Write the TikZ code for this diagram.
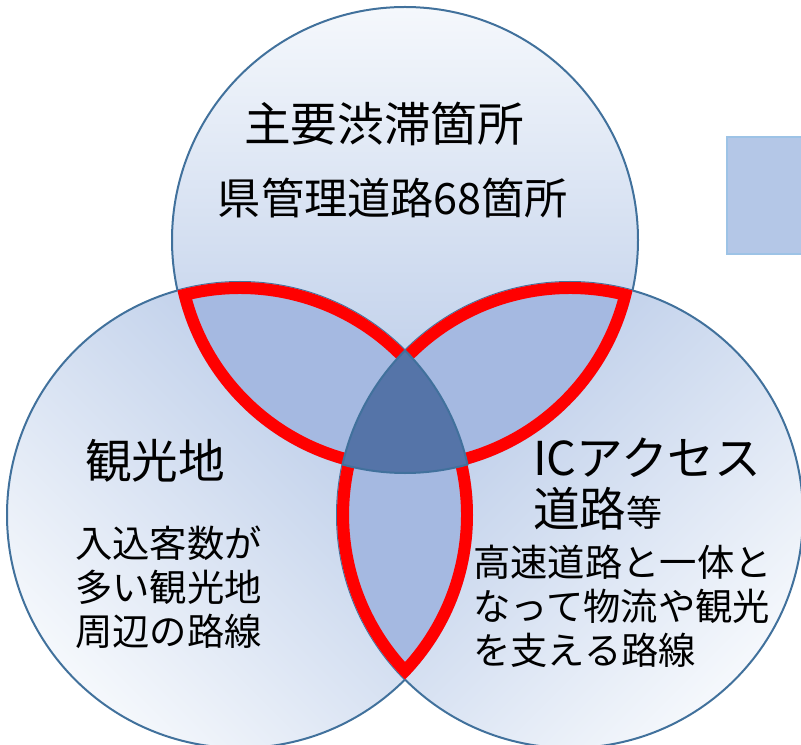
\documentclass[tikz,border=0pt]{standalone}
\usepackage{fontspec}
\setmainfont{Noto Sans CJK JP}
\usepackage{tikz}
\definecolor{ringline}{HTML}{41719C}
\definecolor{shadelight}{HTML}{F5F8FC}
\definecolor{shadedark}{HTML}{B3C6E6}
\definecolor{lensfill}{HTML}{A5B9E1}
\definecolor{corefill}{HTML}{5574A8}
\definecolor{boxfill}{HTML}{B4C7E7}
\definecolor{boxline}{HTML}{9DC3E6}
% outline of the three pairwise overlaps
\newcommand\rimpath{(177.54,453.48)
  arc[start angle=105.55, end angle=44.91, radius=233]
  arc[start angle=135.09, end angle=74.45, radius=233]
  arc[start angle=-12.52, end angle=-74.45, radius=233]
  arc[start angle=12.52, end angle=-44.91, radius=233]
  arc[start angle=224.91, end angle=167.48, radius=233]
  arc[start angle=254.45, end angle=192.52, radius=233] -- cycle}
% common part of all three circles
\newcommand\corepath{(405,393.51)
  arc[start angle=135.09, end angle=167.48, radius=233]
  arc[start angle=254.45, end angle=285.55, radius=233]
  arc[start angle=12.52, end angle=44.91, radius=233] -- cycle}

\begin{document}
\begin{tikzpicture}[
  x=0.75pt, y=0.75pt,
  ring/.style={draw=ringline, line width=1.5pt},
  lens/.style={fill=lensfill},
  core/.style={fill=corefill, draw=ringline, line width=1.5pt},
  rim/.style={draw=red, line width=18pt, line join=miter},
  head/.style={font=\fontsize{35}{40}\selectfont, inner sep=0pt},
  note/.style={font=\fontsize{28}{33}\selectfont, inner sep=0pt, align=left, anchor=west}
]
\useasboundingbox (0,0) rectangle (801,744);
\clip (0,0) rectangle (801,744);
\coordinate (T) at (405,504);
\coordinate (L) at (240,229);
\coordinate (R) at (570,229);
% circles
\shadedraw[ring, top color=shadelight, bottom color=shadedark] (T) circle (233);
\shadedraw[ring, top color=shadedark, bottom color=shadelight, shading angle=-45] (L) circle (233);
\shadedraw[ring, top color=shadedark, bottom color=shadelight, shading angle=45] (R) circle (233);
% overlaps
\foreach \p/\q in {T/L, T/R, L/R}{
  \begin{scope}
    \clip (\p) circle (233);
    \fill[lens] (\q) circle (233);
  \end{scope}
}
\foreach \p/\q in {T/L, T/R, L/R}{
  \begin{scope}
    \clip (\p) circle (233);
    \clip (\q) circle (233);
    \path[rim] \rimpath;
  \end{scope}
}
\path[core] \corepath;
% box at the right
\draw[fill=boxfill, draw=boxline, line width=1.5pt] (727,490) rectangle (810,607);
% texts
\node[head] (title) at (384,620) {主要渋滞箇所};
\node[head, font=\fontsize{32.4}{36}\selectfont] (count) at (393,546) {県管理道路68箇所};
\node[head] (spot) at (155,283) {観光地};
\node[note] (spotnote) at (75,157) {入込客数が\\多い観光地\\周辺の路線};
\node[head, anchor=base west] (ic) at (533,268) {ICアクセス};
\node[head, anchor=base west] (icroad) at (533,217) {道路{\fontsize{27}{30}\selectfont 等}};
\node[note] (icnote) at (473,138) {高速道路と一体と\\なって物流や観光\\を支える路線};
\end{tikzpicture}
\end{document}
